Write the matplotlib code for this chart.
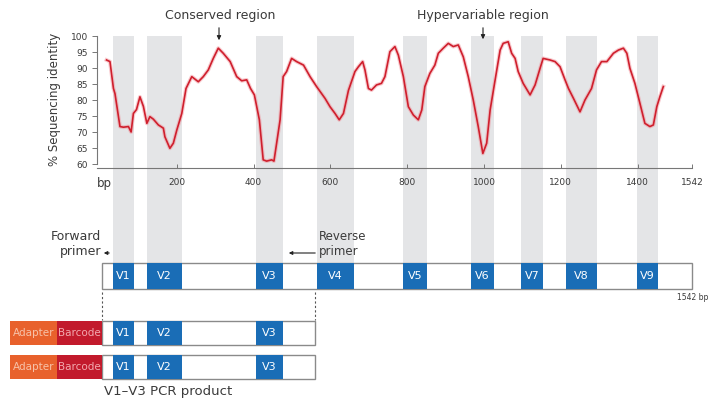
import matplotlib
matplotlib.use("Agg")
import matplotlib.pyplot as plt
from matplotlib.patches import Rectangle

plt.rcParams['font.family'] = ['DejaVu Sans']

# Sliding-window sequence identity along the 16S rRNA gene
position_bp = [17, 26, 35, 39, 52, 61, 74, 81, 87, 95, 104, 113, 122, 130, 139, 152,
               165, 169, 182, 191, 200, 213, 224, 239, 256, 269, 282, 295, 308, 321,
               339, 356, 369, 382, 392, 402, 415, 425, 434, 447, 453, 460, 469, 477,
               486, 499, 512, 530, 547, 564, 586, 599, 612, 623, 634, 647, 664, 673,
               684, 690, 699, 707, 720, 733, 742, 755, 768, 777, 790, 803, 816, 829,
               838, 846, 859, 872, 881, 894, 907, 920, 933, 946, 959, 972, 985, 997,
               1007, 1016, 1029, 1042, 1050, 1063, 1072, 1081, 1089, 1102, 1120, 1133,
               1146, 1154, 1172, 1185, 1198, 1211, 1220, 1233, 1250, 1263, 1280, 1293,
               1306, 1320, 1337, 1350, 1363, 1372, 1380, 1393, 1406, 1419, 1432, 1441,
               1450, 1458, 1467]
identity_pct = [92.5, 92.0, 83.6, 82.0, 71.7, 71.5, 71.7, 70.0, 75.8, 77.0, 81.0, 78.0,
                72.7, 74.8, 74.0, 72.2, 71.2, 68.5, 64.9, 66.5, 70.6, 75.8, 83.6, 87.3,
                85.7, 87.3, 89.4, 93.0, 96.2, 94.6, 92.0, 87.3, 86.0, 86.3, 83.6, 81.6,
                73.8, 61.3, 60.9, 61.3, 60.9, 66.5, 73.8, 87.3, 88.9, 93.0, 92.0, 90.9,
                87.3, 84.2, 80.5, 77.9, 75.8, 73.8, 75.8, 83.0, 88.9, 90.4, 92.0, 89.4,
                83.6, 83.1, 84.7, 85.2, 87.3, 95.1, 96.7, 94.0, 87.3, 77.9, 75.3, 73.8,
                76.9, 84.2, 88.3, 90.9, 94.6, 96.2, 97.7, 96.7, 97.2, 93.5, 87.3, 80.0,
                71.7, 63.3, 66.5, 76.9, 86.3, 95.6, 97.7, 98.2, 94.6, 93.0, 88.9, 85.2,
                81.6, 84.7, 89.9, 93.0, 92.5, 92.0, 90.4, 86.3, 83.6, 80.5, 76.3, 80.0,
                83.6, 89.4, 92.0, 92.0, 94.6, 95.6, 96.2, 94.6, 89.9, 85.2, 79.0, 72.7,
                71.7, 72.2, 77.9, 81.0, 84.2]

# Hypervariable regions V1-V9 (start, end in bp)
region_names = ['V1', 'V2', 'V3', 'V4', 'V5', 'V6', 'V7', 'V8', 'V9']
region_start = [34, 122, 406, 565, 789, 966, 1096, 1214, 1398]
region_end = [89, 214, 477, 661, 852, 1026, 1154, 1294, 1453]

gene_length = 1542
x_ticks = [200, 400, 600, 800, 1000, 1200, 1400, 1542]
y_ticks = [60, 65, 70, 75, 80, 85, 90, 95, 100]

# Amplicon spanned by the V1-V3 primer pair
amplicon_start, amplicon_end = 5, 560
adapter_span = (-234, -112)
barcode_span = (-112, 5)

W, H = 710, 401
PX_PER_BP = 0.384
X0_PX = 100


def px(bp):
    return X0_PX + PX_PER_BP * bp


def bp(p):
    return (p - X0_PX) / PX_PER_BP


BLUE = '#1a6db6'
GREY_BAND = '#e4e5e7'
LINE_RED = '#cf1f2d'
TXT = '#3a3a3a'

fig = plt.figure(figsize=(W / 100, H / 100), dpi=100)

# Full-figure canvas: x in bp, y in pixel rows (top = 0)
base = fig.add_axes([0, 0, 1, 1], zorder=0)
base.set_xlim(bp(0), bp(W))
base.set_ylim(H, 0)
base.axis('off')

# Identity plot
y_lo, y_hi = 58.75, 100
top_px, bot_px = 36, 168
left_px, right_px = 97, px(gene_length)
ax = fig.add_axes([left_px / W, (H - bot_px) / H, (right_px - left_px) / W,
                   (bot_px - top_px) / H], zorder=2)
ax.patch.set_alpha(0)
ax.set_xlim(bp(left_px), gene_length)
ax.set_ylim(y_lo, y_hi)

# shaded columns for each variable region, running down to the gene map
band_top, gene_top, gene_bot = top_px, 263, 289
for s, e in zip(region_start, region_end):
    base.add_patch(Rectangle((s, band_top), e - s, gene_top - band_top,
                             facecolor=GREY_BAND, edgecolor='none', zorder=0))

ax.plot(position_bp, identity_pct, color='#f08a94', lw=2.8, alpha=0.45,
        solid_joinstyle='round')
ax.plot(position_bp, identity_pct, color=LINE_RED, lw=1.2, solid_joinstyle='round')

for side in ['top', 'right']:
    ax.spines[side].set_visible(False)
for side in ['left', 'bottom']:
    ax.spines[side].set_color('#777777')
    ax.spines[side].set_linewidth(0.8)
ax.spines['left'].set_bounds(y_lo + 1.2, y_hi)
ax.set_yticks(y_ticks)
ax.set_yticklabels([str(v) for v in y_ticks])
ax.set_xticks(x_ticks)
ax.set_xticklabels([str(v) for v in x_ticks])
ax.tick_params(axis='y', direction='out', length=3.5, width=0.7, color='#777777',
               labelsize=6.5, labelcolor=TXT, pad=3)
ax.tick_params(axis='x', direction='in', length=3, width=0.7, color='#777777',
               labelsize=6.5, labelcolor=TXT, pad=7)
base.text(bp(55), 99, '% Sequencing identity', rotation=90, fontsize=8.5, color=TXT,
          ha='center', va='center')
base.text(bp(104), 184, 'bp', fontsize=8.5, color=TXT, ha='center', va='center')

# region call-outs
base.annotate('', xy=(bp(219), 43), xytext=(bp(219), 25),
              arrowprops=dict(arrowstyle='-|>', color='#222222', lw=0.8,
                              mutation_scale=6))
base.text(bp(220), 15, 'Conserved region', fontsize=9, color=TXT,
          ha='center', va='center')
base.annotate('', xy=(bp(483), 42), xytext=(bp(483), 25),
              arrowprops=dict(arrowstyle='-|>', color='#222222', lw=0.8,
                              mutation_scale=6))
base.text(bp(483), 15, 'Hypervariable region', fontsize=9, color=TXT,
          ha='center', va='center')

# full-length gene map
box_edge = '#8a8a8a'
base.add_patch(Rectangle((bp(102), gene_top), gene_length - bp(102), gene_bot - gene_top,
                         facecolor='white', edgecolor=box_edge, lw=1.0, zorder=1))
for name, s, e in zip(region_names, region_start, region_end):
    base.add_patch(Rectangle((s, gene_top), e - s, gene_bot - gene_top,
                             facecolor=BLUE, edgecolor='none', zorder=2))
    base.text((s + e) / 2, (gene_top + gene_bot) / 2, name, color='white',
              fontsize=8, ha='center', va='center', zorder=3)
base.text(bp(677), 298, '1542 bp', fontsize=5.5, color=TXT, ha='left', va='center')

# primers
base.text(bp(101), 236, 'Forward', fontsize=9, color=TXT, ha='right', va='center')
base.text(bp(101), 252, 'primer', fontsize=9, color=TXT, ha='right', va='center')
base.annotate('', xy=(bp(101), 253), xytext=(bp(112), 253),
              arrowprops=dict(arrowstyle='-|>', color='#222222', lw=0.8,
                              mutation_scale=5))
base.text(bp(319), 236, 'Reverse', fontsize=8.5, color=TXT, ha='left', va='center')
base.text(bp(319), 252, 'primer', fontsize=8.5, color=TXT, ha='left', va='center')
base.annotate('', xy=(bp(286), 253), xytext=(bp(318), 253),
              arrowprops=dict(arrowstyle='-|>', color='#222222', lw=0.8,
                              mutation_scale=5))

# dashed guides down to the amplicons
for xb in (amplicon_start, amplicon_end):
    base.plot([xb, xb], [292, 320], color='#555555', lw=0.8, ls=(0, (2, 2)))

# V1-V3 PCR products with adapter and barcode
amp_regions = 3
for top, bot in ((321, 345), (355, 379)):
    base.add_patch(Rectangle((amplicon_start, top), amplicon_end - amplicon_start, bot - top,
                             facecolor='white', edgecolor=box_edge, lw=1.0, zorder=1))
    for name, s, e in zip(region_names[:amp_regions], region_start[:amp_regions],
                          region_end[:amp_regions]):
        base.add_patch(Rectangle((s, top), e - s, bot - top, facecolor=BLUE,
                                 edgecolor='none', zorder=2))
        base.text((s + e) / 2, (top + bot) / 2, name, color='white', fontsize=8,
                  ha='center', va='center', zorder=3)
    base.add_patch(Rectangle((adapter_span[0], top), adapter_span[1] - adapter_span[0],
                             bot - top, facecolor='#e8612c', edgecolor='none', zorder=2))
    base.add_patch(Rectangle((barcode_span[0], top), barcode_span[1] - barcode_span[0],
                             bot - top, facecolor='#c21a2c', edgecolor='none', zorder=2))
    base.text(sum(adapter_span) / 2, (top + bot) / 2, 'Adapter', color='#f7c2a8',
              fontsize=7.5, ha='center', va='center', zorder=3)
    base.text(sum(barcode_span) / 2, (top + bot) / 2, 'Barcode', color='#f2a8ae',
              fontsize=7.5, ha='center', va='center', zorder=3)

base.text(bp(168), 391, 'V1\u2013V3 PCR product', fontsize=9.5, color=TXT,
          ha='center', va='center')

fig.savefig('out.png', dpi=100)
